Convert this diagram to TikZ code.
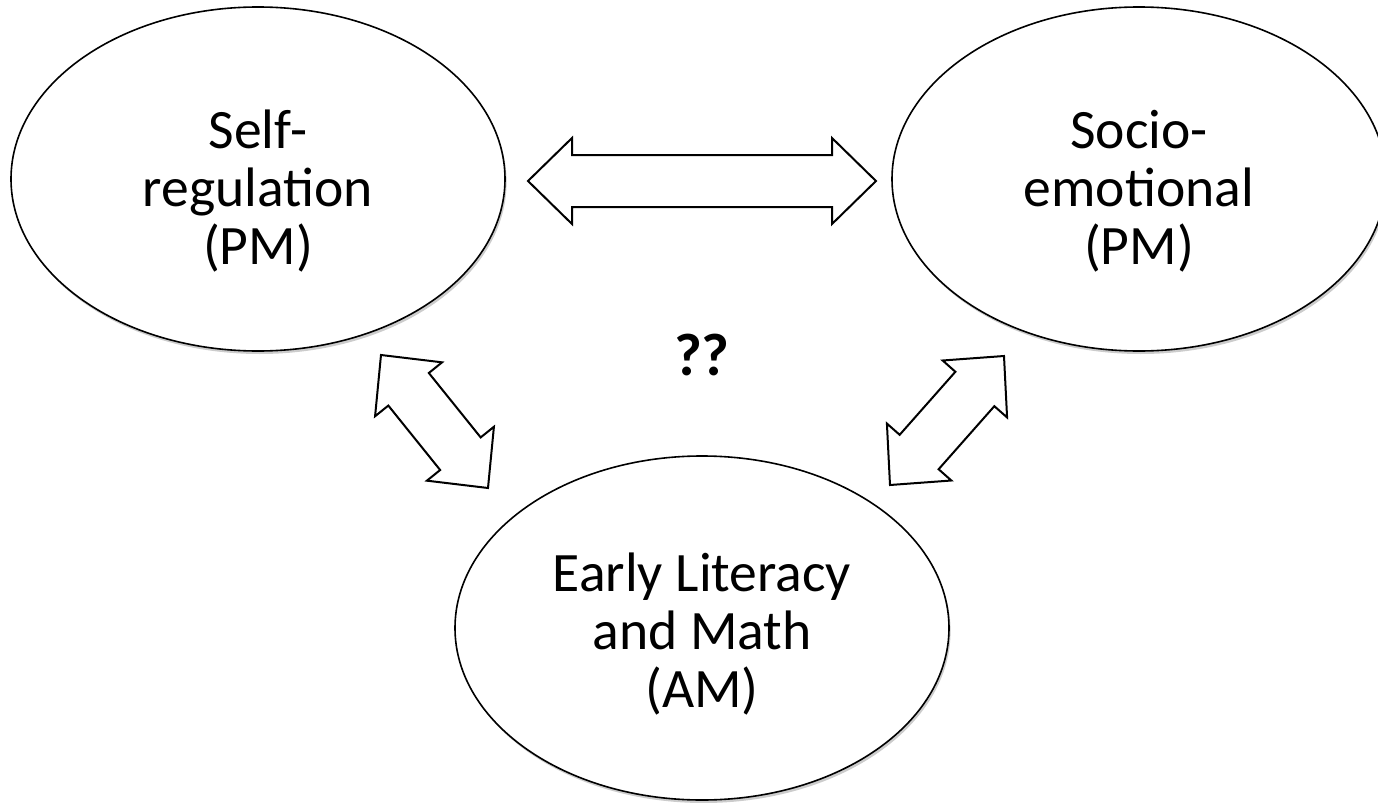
\documentclass[tikz,border=0pt]{standalone}
\usepackage{fontspec}
\setmainfont{Carlito}
\usepackage{tikz}
\usetikzlibrary{shapes.geometric, calc, shadows}
\definecolor{outline}{RGB}{0, 0, 0}
\definecolor{shade}{RGB}{110, 110, 110}

% outlined two-headed block arrow between two tips
\newcommand{\blockarrow}[2]{%
  \draw [linkarrow] (#1)
    -- ($(#1)!22pt!(#2)!21.5pt!90:(#2)$)
    -- ($(#1)!22pt!(#2)!13pt!90:(#2)$)
    -- ($(#2)!22pt!(#1)!13pt!-90:(#1)$)
    -- ($(#2)!22pt!(#1)!21.5pt!-90:(#1)$)
    -- (#2)
    -- ($(#2)!22pt!(#1)!21.5pt!90:(#1)$)
    -- ($(#2)!22pt!(#1)!13pt!90:(#1)$)
    -- ($(#1)!22pt!(#2)!13pt!-90:(#2)$)
    -- ($(#1)!22pt!(#2)!21.5pt!-90:(#2)$)
    -- cycle;}

\begin{document}
\begin{tikzpicture}[
    x=0.5pt, y=-0.5pt,
    skillbox/.style={ellipse, draw=outline, fill=white, line width=0.8pt, minimum width=247pt, minimum height=172pt, inner sep=0pt, align=center, text height=89pt, font=\fontsize{27.8}{28.8}\selectfont, drop shadow={shadow xshift=0.8pt, shadow yshift=-1.5pt, fill=shade, opacity=0.35}},
    linkarrow/.style={draw=outline, fill=white, line width=1pt, line join=miter},
    qmark/.style={font=\fontsize{30}{30}\selectfont\bfseries}
]
    \clip (0,0) rectangle (1378,803);

    \node (selfreg) [skillbox] at (258,179) {Self-\\regulation\\(PM)};
    \node (socio) [skillbox] at (1139,179) {Socio-\\emotional\\(PM)};
    \node (early) [skillbox, text height=83pt] at (702,628) {Early Literacy\\and Math\\(AM)};
    \node (unknown) [qmark] at (702,355) {??};

    % arrow tips
    \coordinate (top-l) at (528,181);
    \coordinate (top-r) at (876,181);
    \coordinate (left-u) at (381,355);
    \coordinate (left-d) at (488,488);
    \coordinate (right-u) at (1004,356);
    \coordinate (right-d) at (890,485);

    \blockarrow{top-l}{top-r}
    \blockarrow{left-u}{left-d}
    \blockarrow{right-u}{right-d}
\end{tikzpicture}
\end{document}
